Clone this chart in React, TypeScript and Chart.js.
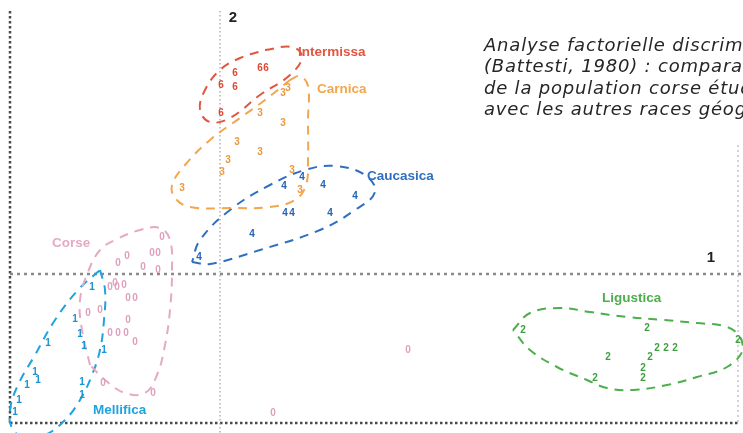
import React, { useEffect, useRef } from "react";
import { Chart, registerables } from "chart.js";
Chart.register(...registerables);

type P = [number, number];

// Factor scores (axis 1 = x, axis 2 = y)
const intermissaPoints: P[] = [[0.01, 1.89], [0.15, 2.01], [0.15, 1.87], [0.40, 2.06], [0.46, 2.06], [0.01, 1.61]];
const carnicaPoints: P[] = [[0.63, 1.81], [0.68, 1.86], [0.40, 1.61], [0.63, 1.51], [0.17, 1.32], [0.40, 1.22], [0.08, 1.14], [0.02, 1.02], [-0.38, 0.86], [0.72, 1.04], [0.80, 0.84]];
const caucasicaPoints: P[] = [[0.82, 0.97], [1.03, 0.89], [0.64, 0.88], [1.35, 0.78], [0.65, 0.61], [0.72, 0.61], [1.10, 0.61], [0.32, 0.40], [-0.21, 0.17]];
const corsePoints: P[] = [[-0.93, 0.18], [-1.02, 0.11], [-0.77, 0.07], [-0.68, 0.21], [-0.62, 0.21], [-0.58, 0.37], [-0.62, 0.04], [-1.10, -0.13], [-1.03, -0.13], [-0.96, -0.11], [-0.92, -0.24], [-0.85, -0.24], [-1.20, -0.36], [-1.32, -0.39], [-1.10, -0.59], [-1.02, -0.59], [-0.94, -0.59], [-0.92, -0.46], [-0.85, -0.68], [-1.17, -1.09], [-0.67, -1.19], [-1.05, -0.09], [1.88, -0.76], [0.53, -1.39]];
const melliferaPoints: P[] = [[-1.28, -0.13], [-1.45, -0.45], [-1.40, -0.60], [-1.36, -0.72], [-1.72, -0.69], [-1.85, -0.98], [-1.82, -1.06], [-1.93, -1.11], [-2.01, -1.26], [-1.38, -1.08], [-1.38, -1.21], [-1.16, -0.76], [-2.05, -1.38]];
const ligusticaPoints: P[] = [[3.03, -0.56], [4.27, -0.54], [4.37, -0.74], [4.46, -0.74], [4.55, -0.74], [4.30, -0.83], [3.88, -0.83], [4.23, -0.94], [4.23, -1.04], [3.75, -1.04], [5.18, -0.66]];

// Hand-drawn group envelopes
const intermissaOutline: P[] = [[0.45, 2.24], [0.72, 2.27], [0.82, 2.17], [0.70, 1.99], [0.40, 1.79], [0.10, 1.56], [-0.10, 1.52], [-0.20, 1.64], [-0.15, 1.84], [0.00, 2.04], [0.20, 2.16]];
const carnicaOutline: P[] = [[0.70, 1.94], [0.80, 1.98], [0.88, 1.88], [0.88, 1.54], [0.88, 1.14], [0.86, 0.89], [0.75, 0.74], [0.50, 0.67], [0.10, 0.66], [-0.30, 0.67], [-0.45, 0.76], [-0.48, 0.89], [-0.35, 1.09], [-0.10, 1.34], [0.20, 1.56], [0.45, 1.74]];
const caucasicaOutline: P[] = [[-0.28, 0.12], [-0.10, 0.10], [0.40, 0.24], [1.00, 0.44], [1.35, 0.64], [1.55, 0.82], [1.45, 0.99], [1.15, 1.08], [0.85, 1.04], [0.50, 0.89], [0.10, 0.64], [-0.20, 0.34]];
const corseOutline: P[] = [[-1.30, -0.91], [-1.38, -0.56], [-1.40, -0.26], [-1.32, 0.02], [-1.20, 0.24], [-1.05, 0.34], [-0.80, 0.44], [-0.60, 0.46], [-0.50, 0.34], [-0.48, 0.04], [-0.50, -0.36], [-0.55, -0.71], [-0.63, -1.01], [-0.75, -1.19], [-0.95, -1.19], [-1.15, -1.06]];
const melliferaOutline: P[] = [[-1.20, 0.04], [-1.15, -0.16], [-1.16, -0.46], [-1.20, -0.76], [-1.28, -1.01], [-1.40, -1.26], [-1.55, -1.46], [-1.75, -1.61], [-1.95, -1.64], [-2.08, -1.54], [-2.10, -1.36], [-2.02, -1.11], [-1.85, -0.81], [-1.65, -0.46], [-1.42, -0.16]];
const ligusticaOutline: P[] = [[2.93, -0.56], [3.10, -0.39], [3.40, -0.34], [3.70, -0.38], [4.07, -0.43], [4.43, -0.46], [4.77, -0.49], [5.07, -0.53], [5.20, -0.63], [5.23, -0.76], [5.07, -0.93], [4.77, -1.03], [4.47, -1.11], [4.13, -1.16], [3.87, -1.14], [3.67, -1.06], [3.37, -0.93], [3.10, -0.76]];

const groupNames = ["Intermissa", "Carnica", "Caucasica", "Corse", "Mellifica", "Ligustica"];
const groupCodes = ["6", "3", "4", "0", "1", "2"];
const groupColors = ["#e2563f", "#f2a64e", "#2f6fc0", "#e6a9c4", "#1fa3df", "#4caf4c"];
const digitColors = ["#d94a36", "#eb9a40", "#2763b4", "#e0a0bd", "#1b93cf", "#3f9f3f"];
const groupLabelPos: P[] = [[0.78, 2.22], [0.97, 1.85], [1.47, 0.98], [-1.68, 0.31], [-1.27, -1.36], [3.82, -0.24]];
const groupPoints = [intermissaPoints, carnicaPoints, caucasicaPoints, corsePoints, melliferaPoints, ligusticaPoints];
const groupOutlines = [intermissaOutline, carnicaOutline, caucasicaOutline, corseOutline, melliferaOutline, ligusticaOutline];

const axisLabels = ["1", "2"];
const axis1LabelPos: P = [4.91, 0.16];
const axis2LabelPos: P = [0.13, 2.56];
const frame = { left: -2.10, right: 5.18, bottom: -1.49, top: 2.63, rightTop: 1.29 };
const xRange: P = [-2.2, 5.23];
const yRange: P = [-1.59, 2.74];

const caption = [
  "Analyse factorielle discriminante",
  "(Battesti, 1980) : comparaison",
  "de la population corse étudiée",
  "avec les autres races géographiques",
];

const decorPlugin = {
  id: "decor",
  beforeDatasetsDraw(chart: any) {
    const { ctx, scales } = chart;
    const x = scales.x, y = scales.y;
    const px = (v: number) => x.getPixelForValue(v);
    const py = (v: number) => y.getPixelForValue(v);
    ctx.save();
    const line = (x1: number, y1: number, x2: number, y2: number, color: string, w: number, dash: number[]) => {
      ctx.beginPath();
      ctx.strokeStyle = color;
      ctx.lineWidth = w;
      ctx.setLineDash(dash);
      ctx.moveTo(x1, y1);
      ctx.lineTo(x2, y2);
      ctx.stroke();
    };
    // frame
    line(px(frame.left), py(frame.top), px(frame.left), py(frame.bottom), "#4a4a4a", 2.5, [2.5, 2.5]);
    line(px(frame.left), py(frame.bottom), px(frame.right), py(frame.bottom), "#4a4a4a", 2.5, [2.5, 2.5]);
    line(px(frame.right), py(frame.rightTop), px(frame.right), py(frame.bottom), "#c4c4c4", 1.5, [2, 3]);
    // factor axes
    line(px(0), py(frame.top), px(0), chart.chartArea.bottom, "#a0a0a0", 1.2, [1.5, 2.5]);
    line(px(frame.left), py(0), chart.chartArea.right, py(0), "#8a8a8a", 2.5, [3, 4]);
    ctx.restore();
  },
  afterDatasetsDraw(chart: any) {
    const { ctx, scales } = chart;
    const x = scales.x, y = scales.y;
    ctx.save();
    ctx.textAlign = "center";
    ctx.textBaseline = "middle";
    chart.data.datasets.forEach((ds: any, i: number) => {
      if (!ds.digit) return;
      const meta = chart.getDatasetMeta(i);
      ctx.fillStyle = ds.color;
      ctx.font = "bold 10px 'Liberation Sans', Arial, sans-serif";
      meta.data.forEach((el: any) => ctx.fillText(ds.digit, el.x, el.y));
    });
    ctx.textAlign = "left";
    ctx.font = "bold 13.5px 'Liberation Sans', Arial, sans-serif";
    groupNames.forEach((n, i) => {
      ctx.fillStyle = groupColors[i];
      ctx.fillText(n, x.getPixelForValue(groupLabelPos[i][0]), y.getPixelForValue(groupLabelPos[i][1]));
    });
    ctx.fillStyle = "#222";
    ctx.font = "bold 15px 'Liberation Sans', Arial, sans-serif";
    ctx.textAlign = "center";
    ctx.fillText(axisLabels[0], x.getPixelForValue(axis1LabelPos[0]), y.getPixelForValue(axis1LabelPos[1]));
    ctx.fillText(axisLabels[1], x.getPixelForValue(axis2LabelPos[0]), y.getPixelForValue(axis2LabelPos[1]));
    ctx.restore();
  },
};

export default function App() {
  const ref = useRef<HTMLCanvasElement>(null);
  useEffect(() => {
    if (!ref.current) return;
    const datasets: any[] = [];
    groupNames.forEach((name, i) => {
      const o = groupOutlines[i];
      datasets.push({
        label: name + " envelope",
        data: [...o, o[0]].map(([a, b]) => ({ x: a, y: b })),
        showLine: true,
        borderColor: groupColors[i],
        borderWidth: 2,
        borderDash: [9, 7],
        tension: 0.4,
        pointRadius: 0,
        fill: false,
      });
      datasets.push({
        label: name,
        data: groupPoints[i].map(([a, b]) => ({ x: a, y: b })),
        pointRadius: 0,
        digit: groupCodes[i],
        color: digitColors[i],
      });
    });
    const chart = new Chart(ref.current, {
      type: "scatter",
      data: { datasets },
      options: {
        animation: false,
        responsive: false,
        devicePixelRatio: 1,
        layout: { padding: 0 },
        plugins: { legend: { display: false }, tooltip: { enabled: false } },
        scales: {
          x: { type: "linear", min: xRange[0], max: xRange[1], display: false },
          y: { type: "linear", min: yRange[0], max: yRange[1], display: false },
        },
      },
      plugins: [decorPlugin],
    } as any);
    return () => chart.destroy();
  }, []);
  return (
    <div style={{ position: "fixed", left: 0, top: 0, width: 743, height: 433, overflow: "hidden", background: "#fff" }}>
      <canvas ref={ref} width={743} height={433} style={{ position: "absolute", left: 0, top: 0 }} />
      <div
        style={{
          position: "absolute",
          left: 484,
          top: 34,
          whiteSpace: "nowrap",
          fontFamily: "'DejaVu Sans', sans-serif",
          fontStyle: "italic",
          fontSize: 18,
          letterSpacing: "0.8px",
          lineHeight: "21.3px",
          color: "#262626",
        }}
      >
        {caption.map((c, i) => (
          <div key={i}>{c}</div>
        ))}
      </div>
    </div>
  );
}
